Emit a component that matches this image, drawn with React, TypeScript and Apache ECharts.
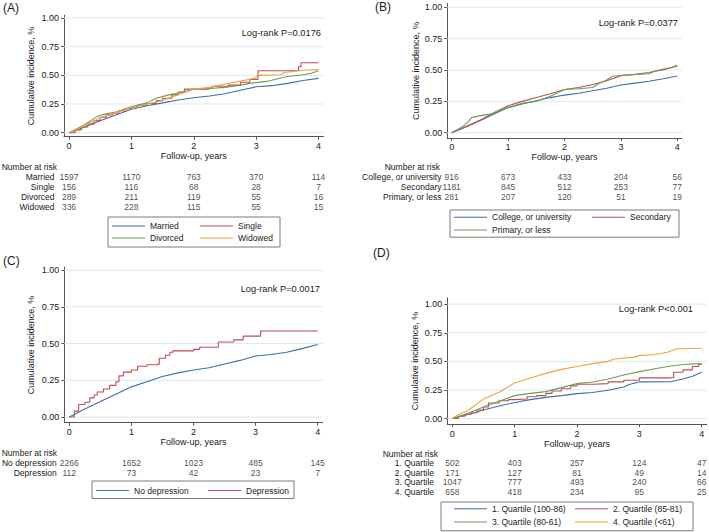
import React, { useEffect, useRef } from "react";
import * as echarts from "echarts";

// ---------- data ----------
const years = [0, 1, 2, 3, 4];
const yTicks = [0, 0.25, 0.5, 0.75, 1];

// Panel A: marital status
const marriedCurve = [[0,0],[0.25,0.05],[0.5,0.105],[0.75,0.155],[1,0.205],[1.25,0.235],[1.5,0.26],[1.75,0.285],[2,0.305],[2.25,0.32],[2.5,0.34],[2.75,0.37],[3,0.4],[3.25,0.41],[3.5,0.43],[3.75,0.455],[4,0.474]];
const singleCurve = [[0,0],[0.1,0.025],[0.2,0.05],[0.3,0.075],[0.4,0.105],[0.5,0.135],[0.6,0.155],[0.7,0.17],[0.8,0.19],[0.9,0.21],[1,0.225],[1.1,0.24],[1.25,0.255],[1.4,0.28],[1.5,0.3],[1.65,0.33],[1.75,0.355],[1.85,0.38],[2.25,0.39],[2.3,0.405],[2.55,0.415],[2.75,0.44],[2.9,0.465],[3.03,0.54],[3.68,0.575],[3.72,0.61],[4,0.61]];
const divorcedCurve = [[0,0],[0.25,0.07],[0.45,0.14],[0.55,0.16],[0.75,0.18],[1,0.225],[1.25,0.26],[1.4,0.3],[1.6,0.33],[1.8,0.35],[2,0.38],[2.25,0.385],[2.5,0.395],[2.75,0.415],[2.9,0.43],[3.2,0.45],[3.5,0.49],[3.75,0.505],[3.9,0.52],[4,0.54]];
const widowedCurve = [[0,0],[0.25,0.06],[0.5,0.13],[0.75,0.175],[1,0.22],[1.25,0.25],[1.5,0.28],[1.75,0.33],[2,0.38],[2.25,0.395],[2.5,0.425],[2.75,0.45],[2.95,0.47],[3.05,0.5],[3.4,0.505],[3.45,0.525],[3.75,0.545],[4,0.55]];
const riskRowsA = ["Married", "Single", "Divorced", "Widowed"];
const riskMarried = [1597, 1170, 763, 370, 114];
const riskSingle = [156, 116, 68, 28, 7];
const riskDivorced = [289, 211, 119, 55, 16];
const riskWidowed = [336, 228, 115, 55, 15];

// Panel B: education
const collegeCurve = [[0,0],[0.25,0.045],[0.5,0.095],[0.75,0.15],[1,0.2],[1.25,0.23],[1.5,0.255],[1.75,0.28],[2,0.3],[2.25,0.315],[2.5,0.335],[2.75,0.355],[3,0.38],[3.25,0.395],[3.5,0.41],[3.75,0.43],[4,0.452]];
const secondaryCurve = [[0,0],[0.25,0.05],[0.5,0.1],[0.75,0.16],[1,0.215],[1.25,0.25],[1.5,0.28],[1.75,0.31],[2,0.345],[2.25,0.36],[2.5,0.385],[2.75,0.415],[3,0.455],[3.25,0.465],[3.5,0.48],[3.75,0.505],[4,0.53]];
const primaryCurve = [[0,0],[0.2,0.05],[0.3,0.09],[0.35,0.12],[0.45,0.13],[0.7,0.15],[0.8,0.17],[1,0.2],[1.25,0.235],[1.5,0.25],[1.75,0.29],[2,0.345],[2.25,0.35],[2.5,0.36],[2.6,0.39],[2.75,0.42],[2.85,0.45],[3.1,0.46],[3.5,0.47],[3.6,0.49],[3.75,0.5],[3.9,0.52],[4,0.54]];
const riskRowsB = ["College, or university", "Secondary", "Primary, or less"];
const riskCollege = [916, 673, 433, 204, 56];
const riskSecondary = [1181, 845, 512, 253, 77];
const riskPrimary = [281, 207, 120, 51, 19];

// Panel C: depression
const noDepressionCurve = [[0,0],[0.25,0.055],[0.5,0.105],[0.75,0.155],[1,0.205],[1.25,0.24],[1.5,0.275],[1.75,0.3],[2,0.32],[2.25,0.335],[2.5,0.36],[2.75,0.385],[3,0.415],[3.25,0.425],[3.5,0.44],[3.75,0.465],[4,0.493]];
const depressionCurve = [[0,0],[0.08,0.04],[0.15,0.085],[0.25,0.1],[0.33,0.13],[0.4,0.15],[0.45,0.17],[0.55,0.19],[0.65,0.215],[0.75,0.24],[0.8,0.28],[0.87,0.305],[1,0.32],[1.1,0.345],[1.25,0.355],[1.42,0.36],[1.45,0.4],[1.55,0.42],[1.62,0.44],[1.67,0.45],[2,0.46],[2.1,0.475],[2.4,0.51],[2.65,0.525],[2.8,0.55],[3.08,0.585],[4,0.585]];
const riskRowsC = ["No depression", "Depression"];
const riskNoDepression = [2266, 1652, 1023, 485, 145];
const riskDepression = [112, 73, 42, 23, 7];

// Panel D: quartiles
const q1Curve = [[0,0],[0.25,0.035],[0.5,0.075],[0.75,0.11],[1,0.14],[1.25,0.165],[1.5,0.185],[1.75,0.2],[2,0.218],[2.25,0.228],[2.5,0.247],[2.75,0.275],[2.85,0.3],[3,0.32],[3.5,0.322],[3.7,0.345],[3.85,0.37],[4,0.405]];
const q2Curve = [[0,0],[0.1,0.02],[0.2,0.035],[0.3,0.05],[0.4,0.075],[0.5,0.1],[0.58,0.135],[0.75,0.155],[0.9,0.165],[1,0.17],[1.2,0.19],[1.35,0.2],[1.5,0.22],[1.6,0.24],[1.75,0.26],[1.9,0.285],[2,0.3],[2.25,0.305],[2.5,0.32],[2.75,0.335],[3,0.355],[3.5,0.36],[3.55,0.405],[3.7,0.425],[3.85,0.455],[3.95,0.475],[4,0.475]];
const q3Curve = [[0,0],[0.25,0.045],[0.5,0.1],[0.75,0.15],[1,0.2],[1.25,0.22],[1.5,0.235],[1.75,0.27],[2,0.305],[2.25,0.32],[2.5,0.345],[2.75,0.38],[3,0.41],[3.25,0.435],[3.5,0.46],[3.75,0.475],[4,0.48]];
const q4Curve = [[0,0],[0.05,0.02],[0.15,0.045],[0.25,0.07],[0.5,0.17],[0.75,0.23],[1,0.31],[1.25,0.355],[1.5,0.395],[1.75,0.43],[2,0.455],[2.25,0.48],[2.5,0.5],[2.6,0.52],[2.9,0.535],[3,0.55],[3.25,0.56],[3.45,0.58],[3.6,0.61],[4,0.615]];
const riskRowsD = ["1. Quartile", "2. Quartile", "3. Quartile", "4. Quartile"];
const riskQ1 = [502, 403, 257, 124, 47];
const riskQ2 = [171, 127, 81, 49, 14];
const riskQ3 = [1047, 777, 493, 240, 66];
const riskQ4 = [658, 418, 234, 95, 25];

const panelLetters = ["(A)", "(B)", "(C)", "(D)"];
const logRankTexts = ["Log-rank P=0.0176", "Log-rank P=0.0377", "Log-rank P=0.0017", "Log-rank P<0.001"];

// ---------- styling ----------
const FONT = "'Liberation Sans', Arial, Helvetica, sans-serif";
const TXT = "#1a1a1a";
const AXIS = "#555555";
const GRIDC = "#dae9ee";
const BLUE = "#3e6ea6";
const RED = "#bf4e57";
const GREEN = "#6f9c55";
const ORANGE = "#f3a03f";

type Layout = {
  x0: number; x4: number; y0: number; y1: number; ymin: number; ymax: number;
  yNameGap: number; xNameGap: number; tableTop: number; rowH: number; labelMargin: number;
  letter: [number, number]; logrank: [number, number]; nar: [number, number];
  legend: { left: number; top: number; padding: number[]; lineH: number; width: number; textW: number[] };
};

const XMIN = -0.08, XMAX = 4.08;

const layouts: Layout[] = [
  { x0: 69, x4: 318.5, y0: 132.7, y1: 18.0, ymin: -0.035, ymax: 1.025, yNameGap: 29, xNameGap: 14.5, tableTop: 172.3, rowH: 10, labelMargin: 9.5,
    letter: [3, 8.3], logrank: [321, 32.7], nar: [57, 167.3],
    legend: { left: 108, top: 217, padding: [3, 4, 3, 4], lineH: 12, width: 170, textW: [50, 38, 50, 38] } },
  { x0: 451.7, x4: 677.3, y0: 132.7, y1: 7.3, ymin: -0.042, ymax: 1.03, yNameGap: 27, xNameGap: 14, tableTop: 172.3, rowH: 10, labelMargin: 5.7,
    letter: [375, 7.3], logrank: [678, 22.7], nar: [440, 166.7],
    legend: { left: 450, top: 210, padding: [1, 4, 1, 4], lineH: 12.6, width: 225, textW: [100, 45, 100] } },
  { x0: 69.3, x4: 317.7, y0: 417.0, y1: 270.0, ymin: -0.039, ymax: 1.02, yNameGap: 29, xNameGap: 14, tableTop: 458.6, rowH: 9.4, labelMargin: 7.6,
    letter: [3, 260.7], logrank: [320, 289.3], nar: [57, 453.3],
    legend: { left: 92, top: 481, padding: [3, 4, 1.5, 4], lineH: 13, width: 200, textW: [74, 44] } },
  { x0: 452.3, x4: 701.7, y0: 418.5, y1: 304.2, ymin: -0.05, ymax: 1.055, yNameGap: 28, xNameGap: 13.5, tableTop: 458.5, rowH: 9.57, labelMargin: 13.3,
    letter: [373, 253.3], logrank: [693, 309.3], nar: [438, 454],
    legend: { left: 441, top: 502, padding: [0, 2, 2, 13], lineH: 13.4, width: 240, textW: [83, 78, 83, 78] } },
];

type Curve = { name: string; data: number[][]; color: string; step: boolean };

const panels: { curves: Curve[]; rows: string[]; risk: number[][] }[] = [
  {
    curves: [
      { name: "Married", data: marriedCurve, color: BLUE, step: false },
      { name: "Single", data: singleCurve, color: RED, step: true },
      { name: "Divorced", data: divorcedCurve, color: GREEN, step: false },
      { name: "Widowed", data: widowedCurve, color: ORANGE, step: false },
    ],
    rows: riskRowsA, risk: [riskMarried, riskSingle, riskDivorced, riskWidowed],
  },
  {
    curves: [
      { name: "College, or university", data: collegeCurve, color: BLUE, step: false },
      { name: "Secondary", data: secondaryCurve, color: RED, step: false },
      { name: "Primary, or less", data: primaryCurve, color: GREEN, step: false },
    ],
    rows: riskRowsB, risk: [riskCollege, riskSecondary, riskPrimary],
  },
  {
    curves: [
      { name: "No depression", data: noDepressionCurve, color: BLUE, step: false },
      { name: "Depression", data: depressionCurve, color: RED, step: true },
    ],
    rows: riskRowsC, risk: [riskNoDepression, riskDepression],
  },
  {
    curves: [
      { name: "1. Quartile (100-86)", data: q1Curve, color: BLUE, step: false },
      { name: "2. Quartile (85-81)", data: q2Curve, color: RED, step: true },
      { name: "3. Quartile (80-61)", data: q3Curve, color: GREEN, step: false },
      { name: "4. Quartile (<61)", data: q4Curve, color: ORANGE, step: false },
    ],
    rows: riskRowsD, risk: [riskQ1, riskQ2, riskQ3, riskQ4],
  },
];

function buildOption() {
  const grid: any[] = [];
  const xAxis: any[] = [];
  const yAxis: any[] = [];
  const series: any[] = [];
  const legend: any[] = [];
  const graphic: any[] = [];

  layouts.forEach((L) => {
    const px = (L.x4 - L.x0) / 4;
    const py = L.y0 - L.y1;
    const left = L.x0 + XMIN * px;
    const width = (XMAX - XMIN) * px;
    const top = L.y0 - L.ymax * py;
    const height = (L.ymax - L.ymin) * py;
    grid.push({ left, top, width, height, containLabel: false, outerBoundsMode: "none" });
  });
  layouts.forEach((L, p) => {
    const px = (L.x4 - L.x0) / 4;
    const left = L.x0 + XMIN * px;
    const width = (XMAX - XMIN) * px;
    const n = panels[p].rows.length;
    grid.push({ left, top: L.tableTop, width, height: L.rowH * n, containLabel: false, outerBoundsMode: "none" });
  });

  layouts.forEach((L, p) => {
    xAxis.push({
      type: "value", gridIndex: p, min: XMIN, max: XMAX,
      axisLine: { show: true, onZero: false, lineStyle: { color: AXIS, width: 1 } },
      axisTick: { show: true, length: 3, customValues: years, lineStyle: { color: AXIS } },
      axisLabel: { customValues: years, margin: 5, fontSize: 9, color: TXT, fontFamily: FONT },
      splitLine: { show: false },
      name: "Follow-up, years", nameLocation: "middle", nameGap: L.xNameGap,
      nameTextStyle: { fontSize: 9, color: TXT, fontFamily: FONT },
    });
    yAxis.push({
      type: "value", gridIndex: p, min: L.ymin, max: L.ymax,
      axisLine: { show: true, onZero: false, lineStyle: { color: AXIS, width: 1 } },
      axisTick: { show: true, length: 3, customValues: yTicks, lineStyle: { color: AXIS } },
      axisLabel: { customValues: yTicks, margin: 5, fontSize: 9, color: TXT, fontFamily: FONT,
        formatter: (v: number) => v.toFixed(2) },
      splitLine: { show: false },
      name: "Cumulative incidence, %", nameLocation: "middle", nameGap: L.yNameGap, nameRotate: 90,
      nameTextStyle: { fontSize: 9, color: TXT, fontFamily: FONT },
    });
  });
  layouts.forEach((L, p) => {
    xAxis.push({ type: "value", gridIndex: 4 + p, min: XMIN, max: XMAX, show: false });
    yAxis.push({
      type: "category", gridIndex: 4 + p, data: panels[p].rows, inverse: true,
      axisLine: { show: false }, axisTick: { show: false }, splitLine: { show: false },
      axisLabel: { interval: 0, margin: L.labelMargin, fontSize: 8.5, color: TXT, fontFamily: FONT },
    });
  });

  panels.forEach((P, p) => {
    // horizontal reference lines at the y ticks, spanning the axis range
    yTicks.forEach((v, k) => {
      series.push({
        type: "line", name: "grid" + p + "_" + k, xAxisIndex: p, yAxisIndex: p,
        data: [[XMIN, v], [XMAX, v]], showSymbol: false, symbol: "none", silent: true,
        clip: false, color: GRIDC, itemStyle: { color: GRIDC },
        lineStyle: { color: GRIDC, width: 1, opacity: 1 }, z: 1,
      });
    });
    P.curves.forEach((c) => {
      series.push({
        type: "line", name: c.name, xAxisIndex: p, yAxisIndex: p, data: c.data,
        step: c.step ? "end" : false, showSymbol: false, symbol: "none", silent: true,
        lineStyle: { color: c.color, width: 1.1 }, itemStyle: { color: c.color }, z: 3,
      });
    });
    const tableData: any[] = [];
    P.rows.forEach((r, ri) => {
      P.risk[ri].forEach((v, k) => tableData.push([years[k], r, v]));
    });
    series.push({
      type: "scatter", name: "risk" + p, xAxisIndex: 4 + p, yAxisIndex: 4 + p,
      data: tableData, symbolSize: 1, itemStyle: { color: "rgba(0,0,0,0)" }, silent: true,
      label: { show: true, position: "inside", formatter: (q: any) => String(q.value[2]),
        fontSize: 8.5, color: TXT, fontFamily: FONT },
    });
  });

  layouts.forEach((L, p) => {
    const names = panels[p].curves.map((c) => c.name);
    legend.push({
      show: true, orient: "horizontal", left: L.legend.left, top: L.legend.top, width: L.legend.width,
      padding: L.legend.padding, itemGap: 0, itemWidth: 33, itemHeight: 1, icon: "rect",
      borderColor: "#7a7a7a", borderWidth: 1, borderRadius: 0, backgroundColor: "#ffffff",
      selectedMode: false,
      textStyle: { fontSize: 8.5, color: TXT, fontFamily: FONT, lineHeight: L.legend.lineH },
      data: names.map((n, i) => ({ name: n, textStyle: { width: L.legend.textW[i], lineHeight: L.legend.lineH } })),
    });
    graphic.push({
      type: "text", x: L.letter[0], y: L.letter[1],
      style: { text: panelLetters[p], fontSize: 12, fontFamily: FONT, fill: TXT, textAlign: "left", textVerticalAlign: "middle", align: "left", verticalAlign: "middle" },
    });
    graphic.push({
      type: "text", x: L.logrank[0], y: L.logrank[1],
      style: { text: logRankTexts[p], fontSize: 9.3, fontFamily: FONT, fill: TXT, textAlign: "right", textVerticalAlign: "middle", align: "right", verticalAlign: "middle" },
    });
    graphic.push({
      type: "text", x: L.nar[0], y: L.nar[1],
      style: { text: "Number at risk", fontSize: 8.5, fontFamily: FONT, fill: TXT, textAlign: "right", textVerticalAlign: "middle", align: "right", verticalAlign: "middle" },
    });
  });

  return {
    animation: false,
    backgroundColor: "#ffffff",
    textStyle: { fontFamily: FONT },
    grid, xAxis, yAxis, series, legend, graphic,
  };
}

export default function App() {
  const ref = useRef<HTMLDivElement>(null);
  useEffect(() => {
    document.body.style.margin = "0";
    if (!ref.current) return;
    const chart = echarts.init(ref.current, undefined, { renderer: "svg" });
    chart.setOption(buildOption() as any);
    return () => chart.dispose();
  }, []);
  return <div ref={ref} style={{ position: "absolute", left: 0, top: 0, width: 709, height: 532 }} />;
}
